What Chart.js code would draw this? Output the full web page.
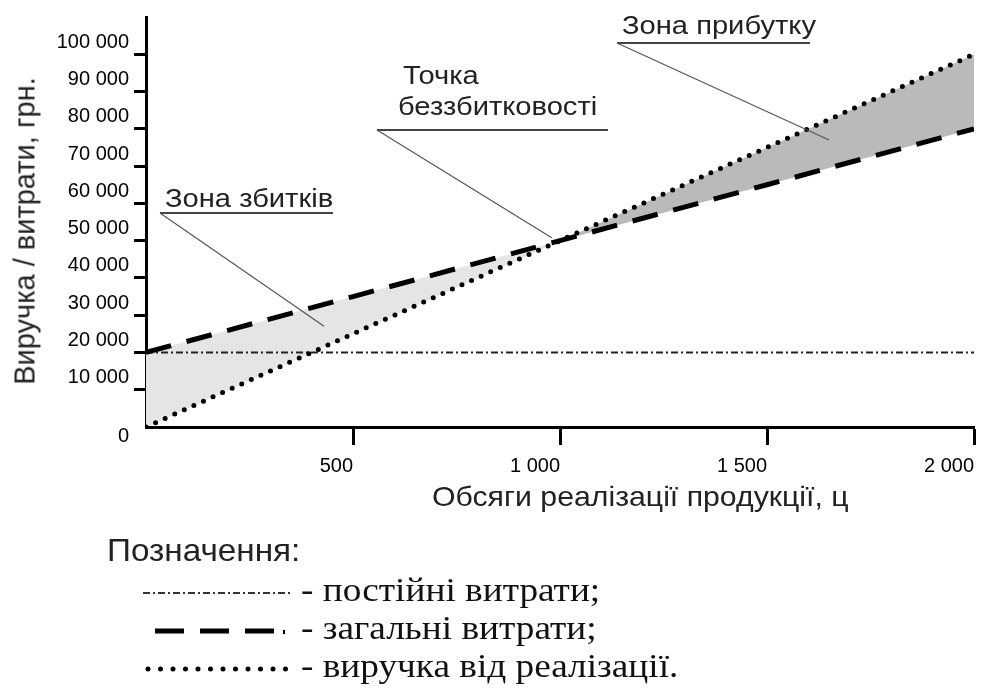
<!DOCTYPE html>
<html>
<head>
<meta charset="utf-8">
<script src="https://cdn.jsdelivr.net/npm/chart.js@4.4.1/dist/chart.umd.min.js"></script>
<style>
  html, body { margin: 0; padding: 0; background: #fff; }
  #wrap { position: relative; width: 983px; height: 699px; overflow: hidden; }
  canvas { position: absolute; left: 0; top: 0; }
  .lbl { position: absolute; white-space: nowrap; line-height: 1; color: #222;
         font-family: "Liberation Sans", Arial, sans-serif; transform-origin: 0 0; }
  .note { font-size: 26px; transform: scaleX(1.12); }
  .serif { font-family: "Liberation Serif", "Times New Roman", serif; color: #111;
           font-size: 33px; transform: scaleX(1.13); }
</style>
</head>
<body>
<div id="wrap">
  <canvas id="chart" width="983" height="699"></canvas>
  <div class="lbl" id="yTitle" style="font-size:29px; left:25px; top:231px; transform: translate(-50%, -50%) rotate(-90deg); transform-origin: 50% 50%;">Виручка / витрати, грн.</div>
  <div class="lbl" id="xTitle" style="font-size:28px; left:432px; top:483px; transform: scaleX(1.08);">Обсяги реалізації продукції, ц</div>
  <div class="lbl note" style="left:622px; top:12px;">Зона прибутку</div>
  <div class="lbl note" style="left:403px; top:62px;">Точка</div>
  <div class="lbl note" style="left:398px; top:93px;">беззбитковості</div>
  <div class="lbl note" style="left:165px; top:185px;">Зона збитків</div>
  <div class="lbl" style="font-size:32px; left:107px; top:534px; transform: scaleX(1.04);">Позначення:</div>
  <div class="lbl serif" style="left:301px; top:574px;">- постійні витрати;</div>
  <div class="lbl serif" style="left:301px; top:612px;">- загальні витрати;</div>
  <div class="lbl serif" style="left:301px; top:650px;">- виручка від реалізації.</div>
</div>
<script>
// values
const volumes = [0, 500, 1000, 1500, 2000];
const revenue = [0, 25000, 50000, 75000, 100000];
const totalCosts = [20000, 35000, 50000, 65000, 80000];
const fixedCosts = [20000, 20000, 20000, 20000, 20000];
const xTicks = [500, 1000, 1500, 2000];
const yTicks = [0, 10000, 20000, 30000, 40000, 50000, 60000, 70000, 80000, 90000, 100000];

// where the three notes point to, in data units
const lossPoint = [430, 27000];
const breakEvenPoint = [980, 50800];
const profitPoint = [1650, 77000];

const fmt = v => String(v).replace(/\B(?=(\d{3})+(?!\d))/g, ' ');
const pts = vals => volumes.map((v, i) => ({ x: v, y: vals[i] }));

const fixedDash = [7, 3, 2, 3];
const totalDash = [26, 16];
const revenueDash = [0, 10.5];

// underlines and leader lines of the notes, plus legend samples
const notes = {
  id: 'notes',
  afterDatasetsDraw(chart) {
    const { ctx, scales: { x, y } } = chart;
    const items = [
      { from: 160, to: 333, yy: 213, target: lossPoint },
      { from: 377, to: 608, yy: 130, target: breakEvenPoint },
      { from: 617, to: 810, yy: 43, target: profitPoint }
    ];
    ctx.save();
    items.forEach(it => {
      ctx.strokeStyle = '#444';
      ctx.lineWidth = 2;
      ctx.beginPath();
      ctx.moveTo(it.from, it.yy);
      ctx.lineTo(it.to, it.yy);
      ctx.stroke();
      ctx.strokeStyle = '#555';
      ctx.lineWidth = 1.2;
      ctx.beginPath();
      ctx.moveTo(it.from, it.yy);
      ctx.lineTo(x.getPixelForValue(it.target[0]), y.getPixelForValue(it.target[1]));
      ctx.stroke();
    });
    ctx.restore();
  },
  afterDraw(chart) {
    const ctx = chart.ctx;
    ctx.save();
    // fixed costs sample
    ctx.strokeStyle = '#333';
    ctx.lineWidth = 1.8;
    ctx.setLineDash(fixedDash);
    ctx.beginPath();
    ctx.moveTo(143, 593);
    ctx.lineTo(293, 593);
    ctx.stroke();
    // total costs sample
    ctx.strokeStyle = '#000';
    ctx.lineWidth = 5;
    ctx.setLineDash([29, 16]);
    ctx.beginPath();
    ctx.moveTo(155, 631);
    ctx.lineTo(276, 631);
    ctx.stroke();
    ctx.setLineDash([]);
    ctx.lineWidth = 2;
    ctx.beginPath();
    ctx.moveTo(284, 630);
    ctx.lineTo(284, 634);
    ctx.stroke();
    // revenue sample
    ctx.lineWidth = 5;
    ctx.lineCap = 'round';
    ctx.setLineDash([0, 12.5]);
    ctx.beginPath();
    ctx.moveTo(148, 669);
    ctx.lineTo(290, 669);
    ctx.stroke();
    ctx.restore();
  }
};

const tickFont = { family: '"Liberation Sans", Arial, sans-serif', size: 20 };

new Chart(document.getElementById('chart'), {
  type: 'line',
  data: {
    datasets: [
      {
        label: 'виручка від реалізації',
        data: pts(revenue),
        borderColor: '#000',
        borderWidth: 5,
        borderDash: revenueDash,
        borderCapStyle: 'round',
        pointRadius: 0,
        fill: false
      },
      {
        label: 'загальні витрати',
        data: pts(totalCosts),
        borderColor: '#000',
        borderWidth: 5,
        borderDash: totalDash,
        pointRadius: 0,
        fill: { target: 0, above: '#e5e5e5', below: '#bababa' }
      },
      {
        label: 'постійні витрати',
        data: pts(fixedCosts),
        borderColor: '#222',
        borderWidth: 2,
        borderDash: fixedDash,
        pointRadius: 0,
        fill: false
      }
    ]
  },
  options: {
    responsive: false,
    animation: false,
    layout: { padding: { top: 16, right: 6, left: 0, bottom: 0 } },
    plugins: {
      legend: { display: false },
      tooltip: { enabled: false },
      filler: { drawTime: 'beforeDatasetsDraw' }
    },
    scales: {
      x: {
        type: 'linear',
        min: 0,
        max: 2000,
        afterBuildTicks: s => { s.ticks = xTicks.map(v => ({ value: v })); },
        afterFit: s => { s.height = 272; },
        border: { color: '#000', width: 3 },
        grid: { drawOnChartArea: false, tickLength: 18, tickWidth: 3, tickColor: '#000' },
        ticks: { autoSkip: false, maxRotation: 0, align: 'end', padding: 9, color: '#000', font: tickFont, callback: v => fmt(v) }
      },
      y: {
        type: 'linear',
        min: 0,
        max: 110000,
        afterBuildTicks: s => { s.ticks = yTicks.map(v => ({ value: v })); },
        afterFit: s => { s.width = 146; },
        border: { color: '#000', width: 3 },
        grid: {
          drawOnChartArea: false,
          tickLength: 12,
          tickWidth: 3,
          tickColor: c => (c.tick && c.tick.value === 0 ? 'rgba(0,0,0,0)' : '#000')
        },
        ticks: {
          autoSkip: false,
          padding: 5,
          labelOffset: -12,
          color: '#000',
          font: c => ({ ...tickFont, lineHeight: c.tick && c.tick.value === 0 ? 2.1 : 1.2 }),
          callback: v => (v === 0 ? ['', '0'] : fmt(v))
        }
      }
    }
  },
  plugins: [notes]
});
</script>
</body>
</html>
